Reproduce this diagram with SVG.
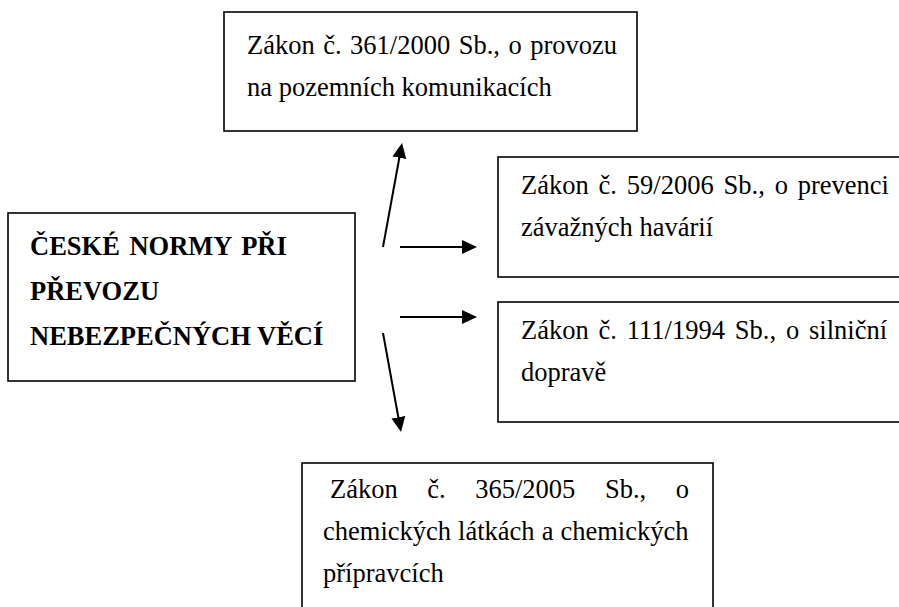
<svg xmlns="http://www.w3.org/2000/svg" width="899" height="607" viewBox="0 0 899 607">
<style>
.box{fill:#fff;stroke:#000;stroke-width:1.6}
.t{font-family:"Liberation Serif","Times New Roman",serif;font-size:26.5px;fill:#000}
.b{font-weight:bold}
.c{stroke:#000;stroke-width:2;fill:none}
</style>
<defs>
<marker id="ah" markerUnits="userSpaceOnUse" markerWidth="16" markerHeight="16" viewBox="0 0 16 16" refX="2" refY="8" orient="auto">
<path d="M0,1 L15,8 L0,15 Z" fill="#000"/>
</marker>
</defs>
<rect width="899" height="607" fill="#fff"/>
<g id="top">
<rect class="box" x="224" y="12" width="413" height="119"/>
<text class="t" x="247" y="54" word-spacing="1.87">Zákon č. 361/2000 Sb., o provozu</text>
<text class="t" x="247" y="96">na pozemních komunikacích</text>
</g>
<g id="main">
<rect class="box" x="8" y="213" width="347" height="168"/>
<text class="t b" x="30" y="255" word-spacing="3">ČESKÉ NORMY PŘI</text>
<text class="t b" x="30" y="300">PŘEVOZU</text>
<text class="t b" x="30" y="345">NEBEZPEČNÝCH VĚCÍ</text>
</g>
<g id="r1">
<rect class="box" x="498" y="157" width="420" height="120"/>
<text class="t" x="521" y="194" word-spacing="3.24">Zákon č. 59/2006 Sb., o prevenci</text>
<text class="t" x="521" y="236">závažných havárií</text>
</g>
<g id="r2">
<rect class="box" x="498" y="302" width="420" height="120"/>
<text class="t" x="521" y="339" word-spacing="3.24">Zákon č. 111/1994 Sb., o silniční</text>
<text class="t" x="521" y="381">dopravě</text>
</g>
<g id="bottom">
<rect class="box" x="302" y="463" width="411" height="160"/>
<text class="t" x="330" y="498" word-spacing="22.95">Zákon č. 365/2005 Sb., o</text>
<text class="t" x="323" y="540" word-spacing="0.43">chemických látkách a chemických</text>
<text class="t" x="323" y="582">přípravcích</text>
</g>
<g id="connectors">
<line class="c" x1="383" y1="247" x2="399.7" y2="155.8" marker-end="url(#ah)"/>
<line class="c" x1="400" y1="247" x2="464" y2="247" marker-end="url(#ah)"/>
<line class="c" x1="400" y1="317" x2="464" y2="317" marker-end="url(#ah)"/>
<line class="c" x1="383" y1="333" x2="398.7" y2="419.2" marker-end="url(#ah)"/>
</g>
</svg>
